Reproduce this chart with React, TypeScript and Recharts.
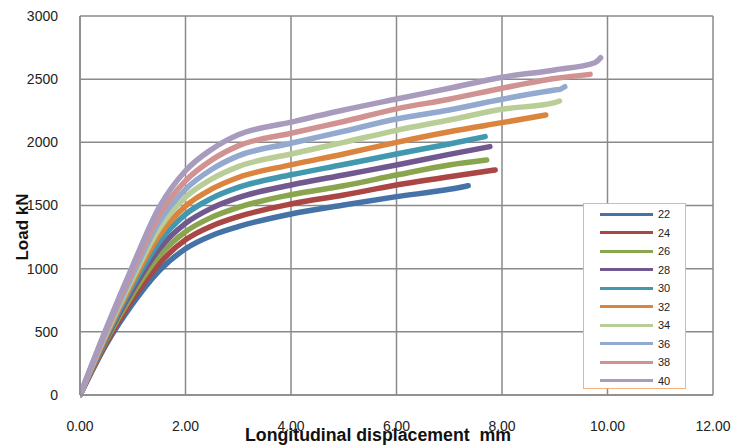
import { CartesianGrid, Legend, Line, LineChart, XAxis, YAxis } from "recharts";

const seriesNames = ["22", "24", "26", "28", "30", "32", "34", "36", "38", "40"];
const colors = [
  "#4572A7",
  "#AA4643",
  "#89A54E",
  "#71588F",
  "#4198AF",
  "#DB843D",
  "#B9CD96",
  "#93A9CF",
  "#D19392",
  "#A99BBD",
];

const xTicks = [0, 2, 4, 6, 8, 10, 12];
const yTicks = [0, 500, 1000, 1500, 2000, 2500, 3000];

// displacement (mm) / load (kN)
const disp22 = [0, 0.5, 1, 1.5, 2, 2.5, 3, 4, 5, 6, 7, 7.36];
const load22 = [0, 403, 723, 983, 1158, 1263, 1333, 1433, 1504, 1570, 1628, 1657];

const disp24 = [0, 0.5, 1, 1.5, 2, 2.5, 3, 4, 5, 6, 7, 7.87];
const load24 = [0, 415, 760, 1040, 1228, 1338, 1412, 1512, 1583, 1662, 1728, 1781];

const disp26 = [0, 0.5, 1, 1.5, 2, 2.5, 3, 4, 5, 6, 7, 7.71];
const load26 = [0, 435, 800, 1100, 1292, 1408, 1485, 1585, 1656, 1741, 1821, 1860];

const disp28 = [0, 0.5, 1, 1.5, 2, 2.5, 3, 4, 5, 6, 7, 7.77];
const load28 = [0, 450, 835, 1155, 1358, 1480, 1562, 1662, 1742, 1821, 1905, 1966];

const disp30 = [0, 0.5, 1, 1.5, 2, 2.5, 3, 4, 5, 6, 7, 7.68];
const load30 = [0, 460, 865, 1210, 1430, 1558, 1643, 1743, 1824, 1908, 1987, 2045];

const disp32 = [0, 0.5, 1, 1.5, 2, 2.5, 3, 4, 5, 6, 7, 8, 8.83];
const load32 = [0, 475, 895, 1262, 1495, 1631, 1722, 1822, 1908, 2000, 2084, 2156, 2216];

const disp34 = [0, 0.5, 1, 1.5, 2, 2.5, 3, 4, 5, 6, 7, 8, 9, 9.09];
const load34 = [0, 490, 925, 1315, 1565, 1711, 1808, 1908, 2000, 2095, 2177, 2262, 2314, 2327];

const disp36 = [0, 0.5, 1, 1.5, 2, 2.5, 3, 4, 5, 6, 7, 8, 9, 9.1, 9.19];
const load36 = [0, 505, 955, 1370, 1628, 1787, 1893, 1993, 2088, 2185, 2256, 2341, 2414, 2420, 2440];

const disp38 = [0, 0.5, 1, 1.5, 2, 2.5, 3, 4, 5, 6, 7, 8, 9, 9.67];
const load38 = [0, 518, 990, 1425, 1695, 1861, 1972, 2072, 2165, 2265, 2341, 2428, 2505, 2538];

const disp40 = [0, 0.5, 1, 1.5, 2, 2.5, 3, 4, 5, 6, 7, 8, 9, 9.76, 9.87];
const load40 = [0, 530, 1025, 1485, 1775, 1946, 2060, 2160, 2256, 2343, 2428, 2515, 2573, 2630, 2670];

const displacements = [disp22, disp24, disp26, disp28, disp30, disp32, disp34, disp36, disp38, disp40];
const loads = [load22, load24, load26, load28, load30, load32, load34, load36, load38, load40];

const series = seriesNames.map((name, i) => ({
  name,
  color: colors[i],
  points: displacements[i].map((x, j) => ({ x, load: loads[i][j] })),
}));

const gridColor = "#8a8a8a";
const tickFont = { fontFamily: "'Liberation Sans', Arial, sans-serif", fontSize: 14, fill: "#222" };

function LegendBox({ payload }: any) {
  return (
    <div
      style={{
        boxSizing: "border-box",
        width: 103,
        height: 186,
        background: "#fff",
        border: "1.5px solid #F8B07A",
        paddingTop: 1,
        fontFamily: "'Liberation Sans', Arial, sans-serif",
        fontSize: 11,
        color: "#222",
      }}
    >
      {(payload || []).map((item: any) => (
        <div
          key={item.value}
          style={{ display: "flex", alignItems: "center", height: 18.5, paddingLeft: 16 }}
        >
          <span
            style={{
              display: "inline-block",
              width: 53,
              height: 3,
              background: item.color,
              marginRight: 5,
            }}
          />
          <span>{item.value}</span>
        </div>
      ))}
    </div>
  );
}

export default function App() {
  return (
    <div style={{ position: "absolute", left: 0, top: 0, background: "#fff" }}>
      <LineChart width={731} height={446} margin={{ top: 16, right: 18, left: 0, bottom: 0 }}>
        <CartesianGrid stroke={gridColor} strokeWidth={1.5} />
        <XAxis
          type="number"
          dataKey="x"
          domain={[0, 12]}
          ticks={xTicks}
          tickFormatter={(v) => Number(v).toFixed(2)}
          height={51}
          tickSize={0}
          tickMargin={26}
          axisLine={{ stroke: gridColor, strokeWidth: 1.5 }}
          tick={tickFont}
          allowDataOverflow
          label={() => (
            <text
              x={378}
              y={441}
              textAnchor="middle"
              textLength={266}
              lengthAdjust="spacingAndGlyphs"
              style={{ whiteSpace: "pre" }}
              fontFamily="'Liberation Sans', Arial, sans-serif"
              fontWeight="bold"
              fontSize={18}
              fill="#111"
            >
              Longitudinal displacement  mm
            </text>
          )}
        />
        <YAxis
          type="number"
          domain={[0, 3000]}
          ticks={yTicks}
          width={80}
          tickSize={0}
          tickMargin={22}
          axisLine={{ stroke: gridColor, strokeWidth: 1.5 }}
          tick={tickFont}
          label={() => (
            <text
              x={22}
              y={227}
              transform="rotate(-90, 22, 227)"
              textAnchor="middle"
              dominantBaseline="central"
              fontFamily="'Liberation Sans', Arial, sans-serif"
              fontWeight="bold"
              fontSize={17}
              fill="#111"
            >
              Load kN
            </text>
          )}
        />
        <Legend
          layout="vertical"
          align="center"
          verticalAlign="middle"
          content={LegendBox}
          wrapperStyle={{ left: 583, top: 203, width: 103, height: 186 }}
        />
        {series.map((s) => (
          <Line
            key={s.name}
            name={s.name}
            data={s.points}
            dataKey="load"
            type="monotone"
            stroke={s.color}
            strokeWidth={5.5}
            strokeLinecap="round"
            strokeLinejoin="round"
            dot={false}
            activeDot={false}
            isAnimationActive={false}
          />
        ))}
      </LineChart>
    </div>
  );
}
